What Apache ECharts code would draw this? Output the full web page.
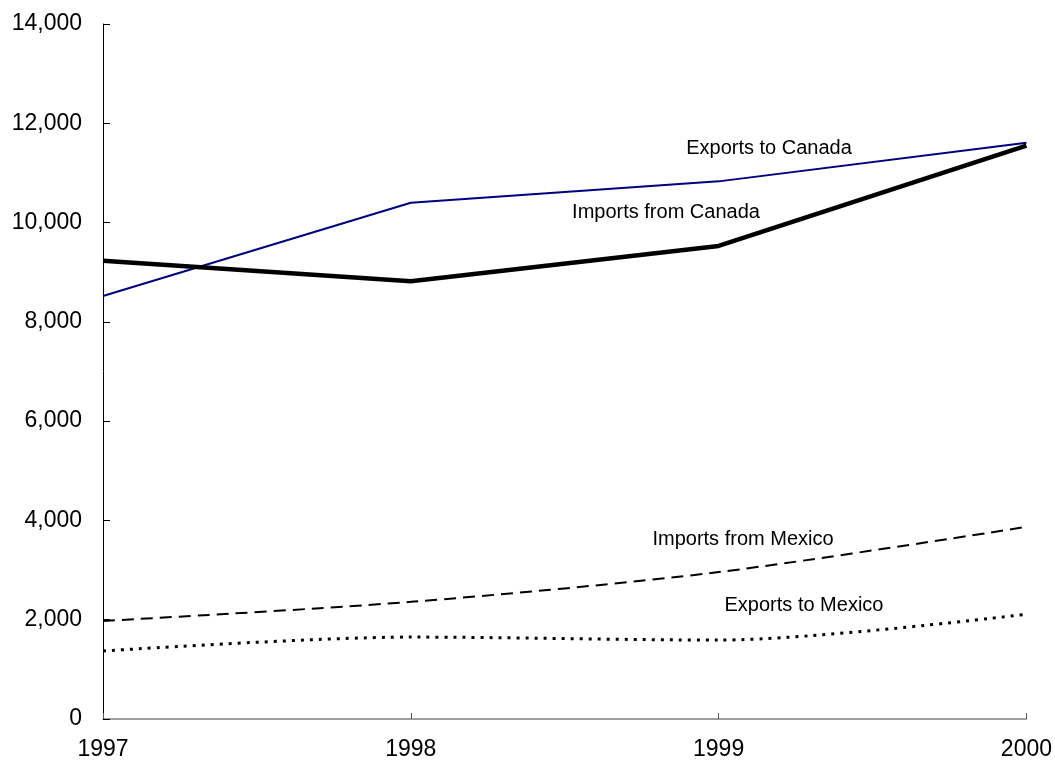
<!DOCTYPE html>
<html><head><meta charset="utf-8">
<script src="https://cdn.jsdelivr.net/npm/echarts@6/dist/echarts.min.js"></script>
<style>html,body{margin:0;padding:0;background:#fff;}#c{width:1055px;height:763px;}</style>
</head><body><div id="c"></div>
<script>
const years = ['1997','1998','1999','2000'];
const exportsToCanada = [8520, 10400, 10830, 11610];
const importsFromCanada = [9230, 8820, 9530, 11550];
const importsFromMexico = [1975, 2360, 2960, 3870];
const exportsToMexico = [1370, 1650, 1590, 2110];
const yTicks = {min: 0, max: 14000, interval: 2000};

const chart = echarts.init(document.getElementById('c'));
const font = 'Liberation Sans, Arial, sans-serif';
chart.setOption({
  animation: false,
  grid: {left: 103, right: 28, top: 24, bottom: 44},
  xAxis: {
    type: 'category', data: years, boundaryGap: false,
    axisLine: {lineStyle: {color: '#808080', width: 1.5}},
    axisTick: {inside: true, length: 6, lineStyle: {color: '#555'}},
    axisLabel: {color: '#000', fontSize: 23, fontFamily: font, margin: 19,
      formatter: v => v}
  },
  yAxis: {
    type: 'value', min: yTicks.min, max: yTicks.max, interval: yTicks.interval,
    axisLine: {show: true, lineStyle: {color: '#000', width: 1}},
    axisTick: {show: true, inside: true, length: 7, lineStyle: {color: '#000'}},
    splitLine: {show: false},
    axisLabel: {color: '#000', fontSize: 23, fontFamily: font, margin: 21,
      formatter: v => v.toLocaleString('en-US')}
  },
  series: [
    {name: 'Exports to Canada', type: 'line', data: exportsToCanada, symbol: 'none',
     lineStyle: {color: '#000080', width: 2}},
    {name: 'Imports from Canada', type: 'line', data: importsFromCanada, symbol: 'none',
     lineStyle: {color: '#000', width: 4.5}},
    {name: 'Imports from Mexico', type: 'line', data: importsFromMexico, symbol: 'none', smooth: 0.3,
     lineStyle: {color: '#000', width: 2, type: [12, 7]}},
    {name: 'Exports to Mexico', type: 'line', data: exportsToMexico, symbol: 'none', smooth: 0.3,
     lineStyle: {color: '#000', width: 3, type: [3, 6]}}
  ],
  graphic: [
    {type: 'text', x: 769, y: 148, style: {text: 'Exports to Canada', font: '20px ' + font, fill: '#000', align: 'center', verticalAlign: 'middle'}},
    {type: 'text', x: 666, y: 212, style: {text: 'Imports from Canada', font: '20px ' + font, fill: '#000', align: 'center', verticalAlign: 'middle'}},
    {type: 'text', x: 743, y: 539, style: {text: 'Imports from Mexico', font: '20px ' + font, fill: '#000', align: 'center', verticalAlign: 'middle'}},
    {type: 'text', x: 804, y: 605, style: {text: 'Exports to Mexico', font: '20px ' + font, fill: '#000', align: 'center', verticalAlign: 'middle'}}
  ]
});
</script></body></html>
